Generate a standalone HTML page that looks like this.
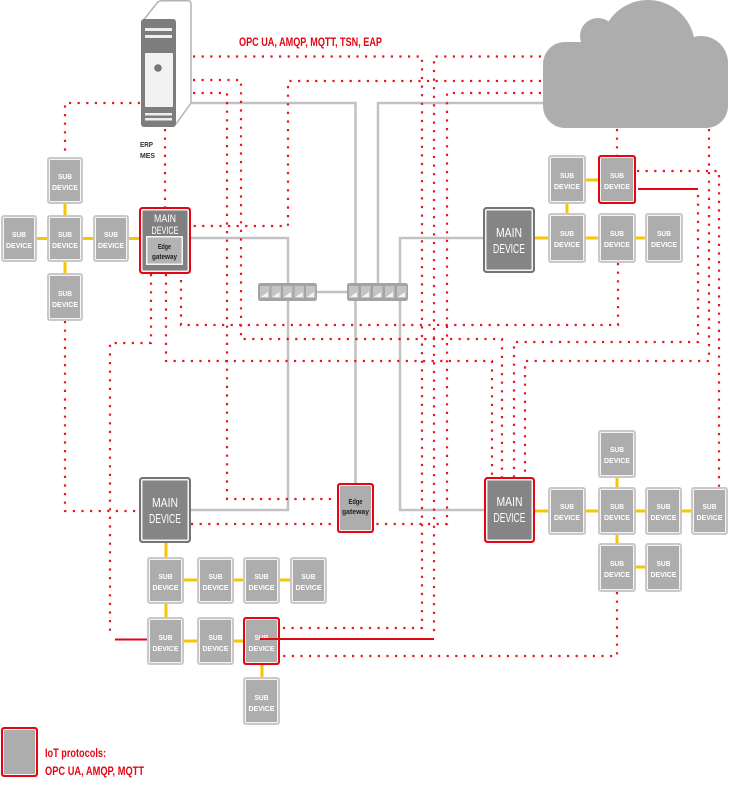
<!DOCTYPE html>
<html><head><meta charset="utf-8"><style>
html,body{margin:0;padding:0;background:#fff;}
svg{display:block;}
</style></head><body>
<svg width="729" height="787" viewBox="0 0 729 787" xmlns="http://www.w3.org/2000/svg" font-family="'Liberation Sans', sans-serif">

<!-- cloud -->
<g fill="#adadad">
  <rect x="543" y="42" width="185" height="86" rx="22"/>
  <circle cx="598" cy="36" r="18"/>
  <circle cx="648" cy="47" r="47"/>
  <circle cx="701" cy="63" r="27"/>
</g>

<!-- server -->
<path d="M142,22 L157,3 Q159,0.8 162,0.8 L188,0.8 Q191,0.8 191,4 L191,103 L176,124" fill="#fff" stroke="#b3b3b3" stroke-width="1.5"/>
<rect x="141" y="19" width="35" height="108" rx="3" fill="#7d7d7d"/>
<rect x="145" y="28" width="27" height="3" fill="#eee"/>
<rect x="145" y="35" width="27" height="3" fill="#eee"/>
<rect x="145" y="53" width="28" height="54" rx="1" fill="#f2f2f2"/>
<circle cx="158" cy="68" r="3.8" fill="#777"/>
<rect x="145" y="113" width="27" height="2.5" fill="#eee"/>
<rect x="145" y="118" width="27" height="2.5" fill="#eee"/>
<text x="140" y="147" font-size="7.5" font-weight="bold" fill="#333" textLength="13" lengthAdjust="spacingAndGlyphs">ERP</text>
<text x="140" y="158" font-size="7.5" font-weight="bold" fill="#333" textLength="15" lengthAdjust="spacingAndGlyphs">MES</text>

<!-- top label -->
<text x="239" y="46" font-size="11.5" font-weight="bold" fill="#e30613" textLength="143" lengthAdjust="spacingAndGlyphs">OPC UA, AMQP, MQTT, TSN, EAP</text>

<!-- gray lines -->
<g stroke="#c2c2c2" stroke-width="2.5" fill="none">
  <path d="M191,103 H355.5 V283"/>
  <path d="M543,103 H378 V283"/>
  <path d="M191,238 H288 V283"/>
  <path d="M483,238 H400 V283"/>
  <path d="M317,292 H347"/>
  <path d="M288,301 V510 H191"/>
  <path d="M355.5,301 V483"/>
  <path d="M400,301 V510 H484"/>
</g>

<!-- yellow links -->
<g stroke="#f6c700" stroke-width="3" fill="none">
  <path d="M65,204 V215 M37,238.5 H47 M83,238.5 H93 M129,238.5 H139 M65,262 V273"/>
  <path d="M586,180 H598 M567,204 V213 M535,238 H548 M586,238 H598 M636,238 H645"/>
  <path d="M617,478 V487 M535,511 H548 M586,511 H598 M636,511 H645 M682,511 H691 M617,535 V543 M636,567 H645"/>
  <path d="M166,543 V557 M184,580 H197 M234,580 H243 M280,580 H290 M166,604 V617 M184,641 H197 M234,641 H243 M262,665 V677"/>
</g>

<!-- dotted red -->
<g stroke="#e8141e" stroke-width="2.2" stroke-dasharray="2.2 6.4" fill="none">
  <path d="M140,103 H65 V157"/>
  <path d="M165,129 V207"/>
  <path d="M193,56.5 H422 V628 H282"/>
  <path d="M193,80 H241 V339 H502 V477"/>
  <path d="M193,93 H227 V499 H337"/>
  <path d="M541,56.5 H434 V637"/>
  <path d="M541,81 H288 V226 H191"/>
  <path d="M541,93 H447 V524 H375"/>
  <path d="M617,129 V155"/>
  <path d="M709,129 V361 H525 V477"/>
  <path d="M637,171 H719 V487"/>
  <path d="M698,195 V342 H514 V477"/>
  <path d="M618,263 V325 H181 V274"/>
  <path d="M166,274 V361 H492 V477"/>
  <path d="M151,274 V343 H110 V636"/>
  <path d="M65,321 V511 H139"/>
  <path d="M191,524 H337"/>
  <path d="M617,592 V656 H282"/>
</g>

<!-- switches -->
<g>
  <rect x="258" y="283" width="59" height="18" rx="2.5" fill="#a3a3a3"/>
  <rect x="347" y="283" width="61" height="18" rx="2.5" fill="#a3a3a3"/>
  <g fill="#c4c4c4">
    <rect x="260" y="286" width="9.5" height="12"/><rect x="271.5" y="286" width="9.5" height="12"/><rect x="283" y="286" width="9.5" height="12"/><rect x="294.5" y="286" width="9.5" height="12"/><rect x="306" y="286" width="9.5" height="12"/>
    <rect x="349" y="286" width="9.5" height="12"/><rect x="361" y="286" width="9.5" height="12"/><rect x="373" y="286" width="9.5" height="12"/><rect x="385" y="286" width="9.5" height="12"/><rect x="397" y="286" width="9.5" height="12"/>
  </g>
  <g fill="#f4f4f4">
    <path d="M261,297 L268,297 L268,292 Z M272.5,297 L279.5,297 L279.5,292 Z M284,297 L291,297 L291,292 Z M295.5,297 L302.5,297 L302.5,292 Z M307,297 L314,297 L314,292 Z"/>
    <path d="M350,297 L357,297 L357,292 Z M362,297 L369,297 L369,292 Z M374,297 L381,297 L381,292 Z M386,297 L393,297 L393,292 Z M398,297 L405,297 L405,292 Z"/>
  </g>
</g>

<!-- sub devices -->
<g id="subs">
  <!-- helper pattern: outer, white, fill -->
  <g>
    <rect x="47" y="157" width="36" height="47" rx="3" fill="#c9c9c9"/><rect x="49" y="159" width="32" height="43" rx="1.5" fill="#f4f4f4"/><rect x="50" y="160" width="30" height="41" fill="#adadad"/>
    <rect x="1" y="215" width="36" height="47" rx="3" fill="#c9c9c9"/><rect x="3" y="217" width="32" height="43" rx="1.5" fill="#f4f4f4"/><rect x="4" y="218" width="30" height="41" fill="#adadad"/>
    <rect x="47" y="215" width="36" height="47" rx="3" fill="#c9c9c9"/><rect x="49" y="217" width="32" height="43" rx="1.5" fill="#f4f4f4"/><rect x="50" y="218" width="30" height="41" fill="#adadad"/>
    <rect x="93" y="215" width="36" height="47" rx="3" fill="#c9c9c9"/><rect x="95" y="217" width="32" height="43" rx="1.5" fill="#f4f4f4"/><rect x="96" y="218" width="30" height="41" fill="#adadad"/>
    <rect x="47" y="273" width="36" height="48" rx="3" fill="#c9c9c9"/><rect x="49" y="275" width="32" height="44" rx="1.5" fill="#f4f4f4"/><rect x="50" y="276" width="30" height="42" fill="#adadad"/>

    <rect x="548" y="155" width="38" height="49" rx="3" fill="#c9c9c9"/><rect x="550" y="157" width="34" height="45" rx="1.5" fill="#f4f4f4"/><rect x="551" y="158" width="32" height="43" fill="#adadad"/>
    <rect x="598" y="155" width="38" height="49" rx="3" fill="#e30613"/><rect x="600" y="157" width="34" height="45" rx="1.5" fill="#f4f4f4"/><rect x="601" y="158" width="32" height="43" fill="#adadad"/>
    <rect x="548" y="213" width="38" height="50" rx="3" fill="#c9c9c9"/><rect x="550" y="215" width="34" height="46" rx="1.5" fill="#f4f4f4"/><rect x="551" y="216" width="32" height="44" fill="#adadad"/>
    <rect x="598" y="213" width="38" height="50" rx="3" fill="#c9c9c9"/><rect x="600" y="215" width="34" height="46" rx="1.5" fill="#f4f4f4"/><rect x="601" y="216" width="32" height="44" fill="#adadad"/>
    <rect x="645" y="213" width="38" height="50" rx="3" fill="#c9c9c9"/><rect x="647" y="215" width="34" height="46" rx="1.5" fill="#f4f4f4"/><rect x="648" y="216" width="32" height="44" fill="#adadad"/>

    <rect x="598" y="430" width="38" height="48" rx="3" fill="#c9c9c9"/><rect x="600" y="432" width="34" height="44" rx="1.5" fill="#f4f4f4"/><rect x="601" y="433" width="32" height="42" fill="#adadad"/>
    <rect x="548" y="487" width="38" height="48" rx="3" fill="#c9c9c9"/><rect x="550" y="489" width="34" height="44" rx="1.5" fill="#f4f4f4"/><rect x="551" y="490" width="32" height="42" fill="#adadad"/>
    <rect x="598" y="487" width="38" height="48" rx="3" fill="#c9c9c9"/><rect x="600" y="489" width="34" height="44" rx="1.5" fill="#f4f4f4"/><rect x="601" y="490" width="32" height="42" fill="#adadad"/>
    <rect x="645" y="487" width="37" height="48" rx="3" fill="#c9c9c9"/><rect x="647" y="489" width="33" height="44" rx="1.5" fill="#f4f4f4"/><rect x="648" y="490" width="31" height="42" fill="#adadad"/>
    <rect x="691" y="487" width="37" height="48" rx="3" fill="#c9c9c9"/><rect x="693" y="489" width="33" height="44" rx="1.5" fill="#f4f4f4"/><rect x="694" y="490" width="31" height="42" fill="#adadad"/>
    <rect x="598" y="543" width="38" height="49" rx="3" fill="#c9c9c9"/><rect x="600" y="545" width="34" height="45" rx="1.5" fill="#f4f4f4"/><rect x="601" y="546" width="32" height="43" fill="#adadad"/>
    <rect x="645" y="543" width="37" height="49" rx="3" fill="#c9c9c9"/><rect x="647" y="545" width="33" height="45" rx="1.5" fill="#f4f4f4"/><rect x="648" y="546" width="31" height="43" fill="#adadad"/>

    <rect x="147" y="557" width="37" height="47" rx="3" fill="#c9c9c9"/><rect x="149" y="559" width="33" height="43" rx="1.5" fill="#f4f4f4"/><rect x="150" y="560" width="31" height="41" fill="#adadad"/>
    <rect x="197" y="557" width="37" height="47" rx="3" fill="#c9c9c9"/><rect x="199" y="559" width="33" height="43" rx="1.5" fill="#f4f4f4"/><rect x="200" y="560" width="31" height="41" fill="#adadad"/>
    <rect x="243" y="557" width="37" height="47" rx="3" fill="#c9c9c9"/><rect x="245" y="559" width="33" height="43" rx="1.5" fill="#f4f4f4"/><rect x="246" y="560" width="31" height="41" fill="#adadad"/>
    <rect x="290" y="557" width="37" height="47" rx="3" fill="#c9c9c9"/><rect x="292" y="559" width="33" height="43" rx="1.5" fill="#f4f4f4"/><rect x="293" y="560" width="31" height="41" fill="#adadad"/>
    <rect x="147" y="617" width="37" height="48" rx="3" fill="#c9c9c9"/><rect x="149" y="619" width="33" height="44" rx="1.5" fill="#f4f4f4"/><rect x="150" y="620" width="31" height="42" fill="#adadad"/>
    <rect x="197" y="617" width="37" height="48" rx="3" fill="#c9c9c9"/><rect x="199" y="619" width="33" height="44" rx="1.5" fill="#f4f4f4"/><rect x="200" y="620" width="31" height="42" fill="#adadad"/>
    <rect x="243" y="617" width="37" height="48" rx="3" fill="#e30613"/><rect x="245" y="619" width="33" height="44" rx="1.5" fill="#f4f4f4"/><rect x="246" y="620" width="31" height="42" fill="#adadad"/>
    <rect x="243" y="677" width="37" height="48" rx="3" fill="#c9c9c9"/><rect x="245" y="679" width="33" height="44" rx="1.5" fill="#f4f4f4"/><rect x="246" y="680" width="31" height="42" fill="#adadad"/>
  </g>
  <g fill="#fff" font-size="7.5" font-weight="bold" text-anchor="middle">
    <text x="65" y="179" textLength="14" lengthAdjust="spacingAndGlyphs">SUB</text><text x="65" y="190" textLength="26" lengthAdjust="spacingAndGlyphs">DEVICE</text>
    <text x="19" y="237" textLength="14" lengthAdjust="spacingAndGlyphs">SUB</text><text x="19" y="248" textLength="26" lengthAdjust="spacingAndGlyphs">DEVICE</text>
    <text x="65" y="237" textLength="14" lengthAdjust="spacingAndGlyphs">SUB</text><text x="65" y="248" textLength="26" lengthAdjust="spacingAndGlyphs">DEVICE</text>
    <text x="111" y="237" textLength="14" lengthAdjust="spacingAndGlyphs">SUB</text><text x="111" y="248" textLength="26" lengthAdjust="spacingAndGlyphs">DEVICE</text>
    <text x="65" y="296" textLength="14" lengthAdjust="spacingAndGlyphs">SUB</text><text x="65" y="307" textLength="26" lengthAdjust="spacingAndGlyphs">DEVICE</text>

    <text x="567" y="178" textLength="14" lengthAdjust="spacingAndGlyphs">SUB</text><text x="567" y="189" textLength="26" lengthAdjust="spacingAndGlyphs">DEVICE</text>
    <text x="617" y="178" textLength="14" lengthAdjust="spacingAndGlyphs">SUB</text><text x="617" y="189" textLength="26" lengthAdjust="spacingAndGlyphs">DEVICE</text>
    <text x="567" y="236" textLength="14" lengthAdjust="spacingAndGlyphs">SUB</text><text x="567" y="247" textLength="26" lengthAdjust="spacingAndGlyphs">DEVICE</text>
    <text x="617" y="236" textLength="14" lengthAdjust="spacingAndGlyphs">SUB</text><text x="617" y="247" textLength="26" lengthAdjust="spacingAndGlyphs">DEVICE</text>
    <text x="664" y="236" textLength="14" lengthAdjust="spacingAndGlyphs">SUB</text><text x="664" y="247" textLength="26" lengthAdjust="spacingAndGlyphs">DEVICE</text>

    <text x="617" y="452" textLength="14" lengthAdjust="spacingAndGlyphs">SUB</text><text x="617" y="463" textLength="26" lengthAdjust="spacingAndGlyphs">DEVICE</text>
    <text x="567" y="509" textLength="14" lengthAdjust="spacingAndGlyphs">SUB</text><text x="567" y="520" textLength="26" lengthAdjust="spacingAndGlyphs">DEVICE</text>
    <text x="617" y="509" textLength="14" lengthAdjust="spacingAndGlyphs">SUB</text><text x="617" y="520" textLength="26" lengthAdjust="spacingAndGlyphs">DEVICE</text>
    <text x="663.5" y="509" textLength="14" lengthAdjust="spacingAndGlyphs">SUB</text><text x="663.5" y="520" textLength="26" lengthAdjust="spacingAndGlyphs">DEVICE</text>
    <text x="709.5" y="509" textLength="14" lengthAdjust="spacingAndGlyphs">SUB</text><text x="709.5" y="520" textLength="26" lengthAdjust="spacingAndGlyphs">DEVICE</text>
    <text x="617" y="566" textLength="14" lengthAdjust="spacingAndGlyphs">SUB</text><text x="617" y="577" textLength="26" lengthAdjust="spacingAndGlyphs">DEVICE</text>
    <text x="663.5" y="566" textLength="14" lengthAdjust="spacingAndGlyphs">SUB</text><text x="663.5" y="577" textLength="26" lengthAdjust="spacingAndGlyphs">DEVICE</text>

    <text x="165.5" y="579" textLength="14" lengthAdjust="spacingAndGlyphs">SUB</text><text x="165.5" y="590" textLength="26" lengthAdjust="spacingAndGlyphs">DEVICE</text>
    <text x="215.5" y="579" textLength="14" lengthAdjust="spacingAndGlyphs">SUB</text><text x="215.5" y="590" textLength="26" lengthAdjust="spacingAndGlyphs">DEVICE</text>
    <text x="261.5" y="579" textLength="14" lengthAdjust="spacingAndGlyphs">SUB</text><text x="261.5" y="590" textLength="26" lengthAdjust="spacingAndGlyphs">DEVICE</text>
    <text x="308.5" y="579" textLength="14" lengthAdjust="spacingAndGlyphs">SUB</text><text x="308.5" y="590" textLength="26" lengthAdjust="spacingAndGlyphs">DEVICE</text>
    <text x="165.5" y="640" textLength="14" lengthAdjust="spacingAndGlyphs">SUB</text><text x="165.5" y="651" textLength="26" lengthAdjust="spacingAndGlyphs">DEVICE</text>
    <text x="215.5" y="640" textLength="14" lengthAdjust="spacingAndGlyphs">SUB</text><text x="215.5" y="651" textLength="26" lengthAdjust="spacingAndGlyphs">DEVICE</text>
    <text x="261.5" y="640" textLength="14" lengthAdjust="spacingAndGlyphs">SUB</text><text x="261.5" y="651" textLength="26" lengthAdjust="spacingAndGlyphs">DEVICE</text>
    <text x="261.5" y="700" textLength="14" lengthAdjust="spacingAndGlyphs">SUB</text><text x="261.5" y="711" textLength="26" lengthAdjust="spacingAndGlyphs">DEVICE</text>
  </g>
</g>

<!-- main devices -->
<g>
  <!-- TL (red) with edge gateway -->
  <rect x="139" y="207" width="52" height="67" rx="3.5" fill="#e30613"/>
  <rect x="141" y="209" width="48" height="63" rx="2" fill="#f4f4f4"/>
  <rect x="142.5" y="210.5" width="45" height="60" fill="#808080"/>
  <rect x="146" y="236" width="37" height="29" fill="#f4f4f4"/>
  <rect x="147.5" y="237.5" width="34" height="26" fill="#b3b3b3"/>
  <!-- TR (gray) -->
  <rect x="483" y="207" width="52" height="66" rx="3.5" fill="#747474"/>
  <rect x="485" y="209" width="48" height="62" rx="2" fill="#f4f4f4"/>
  <rect x="486.5" y="210.5" width="45" height="59" fill="#858585"/>
  <!-- BL (gray) -->
  <rect x="139" y="477" width="52" height="66" rx="3.5" fill="#747474"/>
  <rect x="141" y="479" width="48" height="62" rx="2" fill="#f4f4f4"/>
  <rect x="142.5" y="480.5" width="45" height="59" fill="#858585"/>
  <!-- BR (red) -->
  <rect x="484" y="477" width="51" height="66" rx="3.5" fill="#e30613"/>
  <rect x="486" y="479" width="47" height="62" rx="2" fill="#f4f4f4"/>
  <rect x="487.5" y="480.5" width="44" height="59" fill="#858585"/>
  <!-- standalone edge gateway -->
  <rect x="337" y="483" width="37" height="50" rx="3" fill="#e30613"/>
  <rect x="339" y="485" width="33" height="46" rx="1.5" fill="#f4f4f4"/>
  <rect x="340" y="486" width="31" height="44" fill="#adadad"/>
  <!-- legend -->
  <rect x="1" y="727" width="37" height="50" rx="3" fill="#e30613"/>
  <rect x="3" y="729" width="33" height="46" rx="1.5" fill="#f4f4f4"/>
  <rect x="4" y="730" width="31" height="44" fill="#adadad"/>
</g>

<g fill="#fff" text-anchor="middle">
  <text x="165" y="222" font-size="11" textLength="22" lengthAdjust="spacingAndGlyphs">MAIN</text>
  <text x="165" y="234" font-size="11" textLength="27" lengthAdjust="spacingAndGlyphs">DEVICE</text>
  <text x="509" y="237" font-size="12.5" textLength="26" lengthAdjust="spacingAndGlyphs">MAIN</text>
  <text x="509" y="253" font-size="12.5" textLength="32" lengthAdjust="spacingAndGlyphs">DEVICE</text>
  <text x="165" y="507" font-size="12.5" textLength="26" lengthAdjust="spacingAndGlyphs">MAIN</text>
  <text x="165" y="523" font-size="12.5" textLength="32" lengthAdjust="spacingAndGlyphs">DEVICE</text>
  <text x="509.5" y="506" font-size="12.5" textLength="26" lengthAdjust="spacingAndGlyphs">MAIN</text>
  <text x="509.5" y="522" font-size="12.5" textLength="32" lengthAdjust="spacingAndGlyphs">DEVICE</text>
</g>
<g fill="#1e1e1e" font-weight="bold" text-anchor="middle" font-size="7">
  <text x="164.5" y="249" textLength="13" lengthAdjust="spacingAndGlyphs">Edge</text>
  <text x="164.5" y="259" textLength="25" lengthAdjust="spacingAndGlyphs">gateway</text>
  <text x="355.5" y="504" textLength="14" lengthAdjust="spacingAndGlyphs">Edge</text>
  <text x="355.5" y="514" textLength="27" lengthAdjust="spacingAndGlyphs">gateway</text>
</g>

<!-- solid red lines -->
<g stroke="#e30613" stroke-width="2" fill="none">
  <path d="M638,189 H698"/>
  <path d="M434,639 H260"/>
  <path d="M115,639.5 H147"/>
</g>

<!-- legend text -->
<text x="45" y="757" font-size="11.5" font-weight="bold" fill="#e30613" textLength="61" lengthAdjust="spacingAndGlyphs">IoT protocols:</text>
<text x="45" y="775" font-size="11.5" font-weight="bold" fill="#e30613" textLength="99" lengthAdjust="spacingAndGlyphs">OPC UA, AMQP, MQTT</text>

</svg>
</body></html>
